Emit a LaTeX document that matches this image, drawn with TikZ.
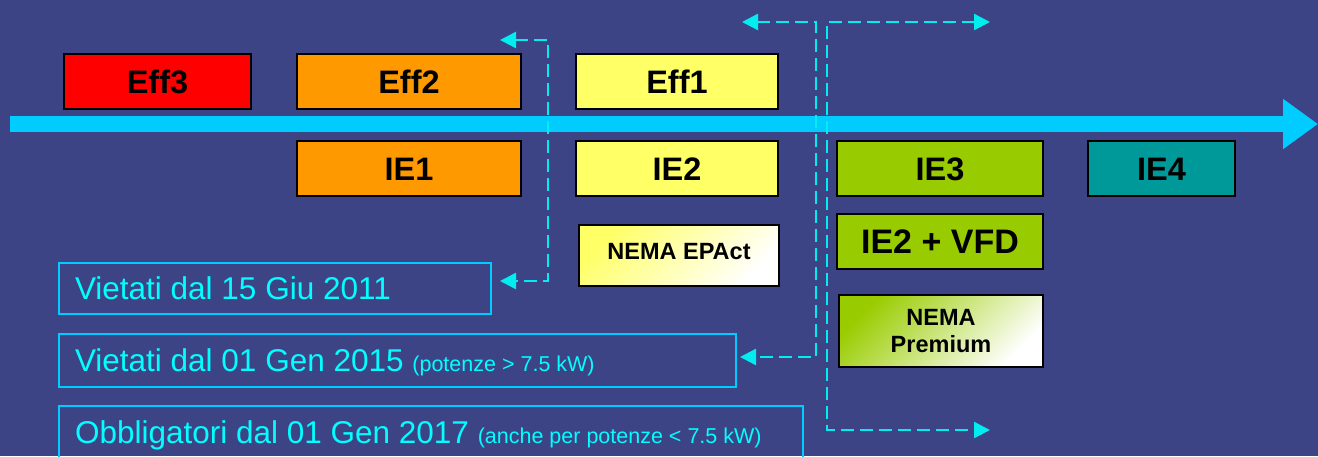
\documentclass[tikz,border=0pt]{standalone}
\usepackage{fontspec}
\setmainfont{Liberation Sans}
\usetikzlibrary{arrows.meta}
\definecolor{bgblue}{RGB}{61,68,134}
\definecolor{axiscyan}{RGB}{0,204,255}
\definecolor{dashcyan}{RGB}{0,238,240}
\definecolor{txtcyan}{RGB}{0,255,255}
\definecolor{boxcyan}{RGB}{0,204,255}
\definecolor{effred}{RGB}{255,0,0}
\definecolor{efforange}{RGB}{255,153,0}
\definecolor{effyellow}{RGB}{255,255,102}
\definecolor{effgreen}{RGB}{153,204,0}
\definecolor{effteal}{RGB}{0,153,153}
\tikzset{
  effbox/.style={draw=black, line width=2pt, minimum height=55pt, inner sep=0pt,
    font=\fontsize{32.5}{36}\selectfont\bfseries, text height=23.3pt, text depth=0pt},
  nemabox/.style={draw=black, line width=2pt, inner sep=0pt, align=center,
    font=\fontsize{23.5}{27}\selectfont\bfseries},
  datebox/.style={draw=boxcyan, line width=2pt, text=txtcyan, anchor=west,
    inner xsep=16pt, inner ysep=0pt, align=flush left,
    font=\fontsize{31.5}{36}\selectfont, text height=22.5pt, text depth=0pt},
  dashconn/.style={draw=dashcyan, line width=2.5pt, dash pattern=on 13pt off 6pt,
    {Triangle[length=16pt,width=16pt]}-{Triangle[length=16pt,width=16pt]}},
}
\newcommand{\smalltxt}[1]{{\fontsize{21.5}{24}\selectfont #1}}
\begin{document}
\begin{tikzpicture}[x=1pt,y=-1pt]
\fill[bgblue] (0,0) rectangle (1318,456);
\useasboundingbox (0,0) rectangle (1318,456);
\clip (0,0) rectangle (1318,456);

% axis
\coordinate (axs) at (10,124);
\coordinate (axe) at (1318,124);
\draw[axiscyan, line width=16pt, -{Triangle[length=35pt,width=48pt]}] (axs) -- (axe);

% top row
\node[effbox, fill=effred, minimum width=187pt] (eff3) at (157.5,81.5) {Eff3};
\node[effbox, fill=efforange, minimum width=224pt] (eff2) at (409,81.5) {Eff2};
\node[effbox, fill=effyellow, minimum width=202pt] (eff1) at (677,81.5) {Eff1};

% bottom row
\node[effbox, fill=efforange, minimum width=224pt] (ie1) at (409,168.5) {IE1};
\node[effbox, fill=effyellow, minimum width=202pt] (ie2) at (677,168.5) {IE2};
\node[effbox, fill=effgreen, minimum width=206pt] (ie3) at (940,168.5) {IE3};
\node[effbox, fill=effteal, minimum width=147pt] (ie4) at (1161.5,168.5) {IE4};

\node[effbox, fill=effgreen, minimum width=206pt, font=\fontsize{34}{38}\selectfont\bfseries, text height=24.3pt] (ie2vfd) at (940,241.5) {IE2 + VFD};

\node[nemabox, minimum width=200pt, minimum height=61pt, text height=17pt, text depth=10pt,
  top color=effyellow, middle color=effyellow!20!white, bottom color=white, shading angle=45]
  (epact) at (679,255.5) {NEMA EPAct};
\node[nemabox, minimum width=204pt, minimum height=72pt,
  top color=effgreen, middle color=effgreen!40!white, bottom color=white, shading angle=45]
  (premium) at (941,331) {NEMA\\Premium};

% date boxes
\node[datebox, text width=400pt, minimum height=51pt] (v2011) at (58,288.5)
  {Vietati dal 15 Giu 2011};
\node[datebox, text width=645pt, minimum height=53pt] (v2015) at (58,360.5)
  {Vietati dal 01 Gen 2015 \smalltxt{(potenze > 7.5 kW)}};
\node[datebox, text width=712pt, minimum height=53pt] (v2017) at (58,432.5)
  {Obbligatori dal 01 Gen 2017 \smalltxt{(anche per potenze < 7.5 kW)}};

% dashed connectors
\coordinate (a1top) at (500,40);
\coordinate (a1bot) at (500,281);
\coordinate (a2top) at (742,22);
\coordinate (a2bot) at (740,357);
\coordinate (a3top) at (990,22);
\coordinate (a3bot) at (990,430);
\draw[dashconn] (a1top) -- ++(48,0) |- (a1bot);
\draw[dashconn] (a2top) -- ++(74,0) |- (a2bot);
\draw[dashconn] (a3top) -- ++(-163,0) |- (a3bot);
\end{tikzpicture}
\end{document}
